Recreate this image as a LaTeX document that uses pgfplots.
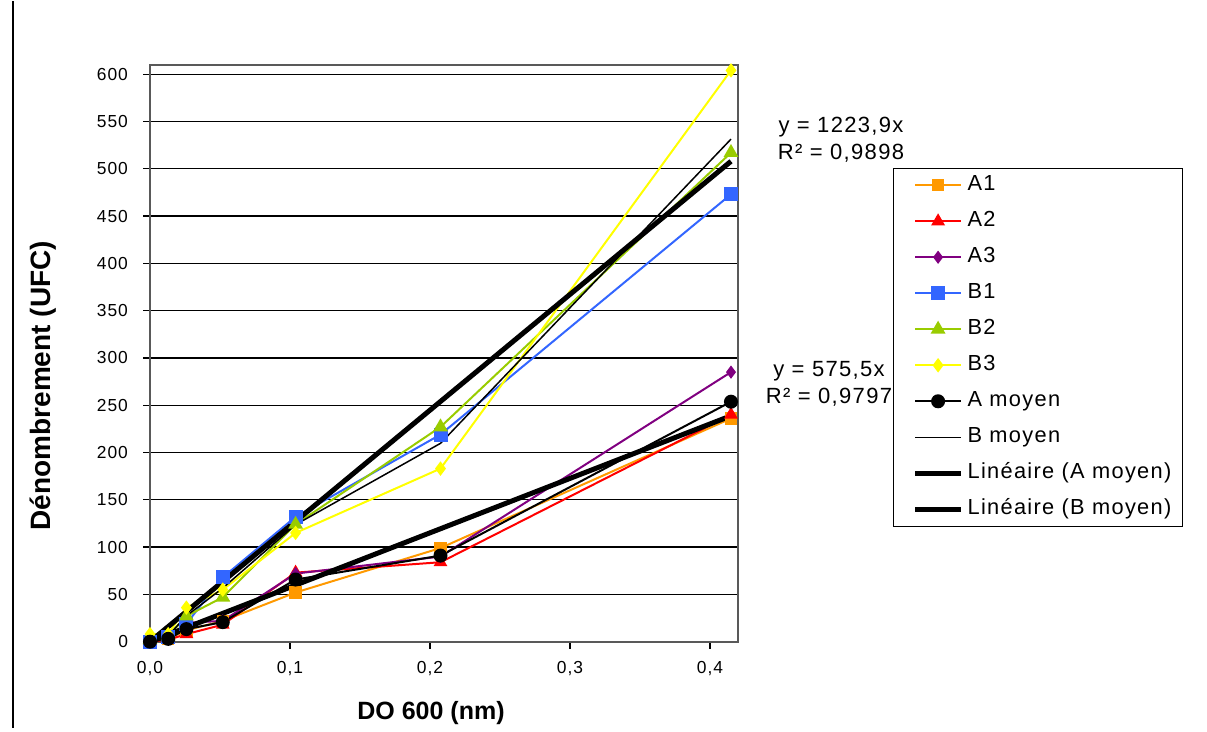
\documentclass[border=0pt]{standalone}
\usepackage{pgfplots}
\pgfplotsset{compat=1.18}
\usepackage{fontspec}
\setmainfont{Liberation Sans}[LetterSpace=6]
\definecolor{cA1}{HTML}{FF9900}
\definecolor{cA2}{HTML}{FF0000}
\definecolor{cA3}{HTML}{800080}
\definecolor{cB1}{HTML}{3366FF}
\definecolor{cB2}{HTML}{99CC00}
\definecolor{cB3}{HTML}{FFFF00}
\begin{document}
\begin{tikzpicture}[x=1pt,y=1pt]
\path (0,0) rectangle (603.5,363.5);
\draw[line width=0.7pt] (6.5,0) -- (6.5,363.5);
\begin{axis}[
  at={(75pt,43pt)}, anchor=south west,
  scale only axis, width=294pt, height=288.5pt,
  xmin=0, xmax=0.42, ymin=0, ymax=610,
  xtick={0,0.1,0.2,0.3,0.4},
  ytick={0,50,...,600},
  ymajorgrids, grid style={black, line width=0.6pt},
  axis line style={draw=gray!70!black, line width=0.9pt},
  tick style={black, line width=0.6pt},
  tick align=outside, major tick length=3.5pt,
  xtick pos=bottom, ytick pos=left,
  x tick label style={/pgf/number format/fixed, /pgf/number format/fixed zerofill, /pgf/number format/precision=1, /pgf/number format/use comma, yshift=-3pt},
  y tick label style={/pgf/number format/fixed, /pgf/number format/use comma, xshift=-4pt},
  /pgf/number format/assume math mode=true,
  tick label style={font=\fontsize{8.7}{10}\selectfont},
  legend cell align=left,
  legend style={at={(axis description cs:1.2636,0.8215)}, anchor=north west, draw=black, line width=0.6pt,
    font=\fontsize{10.9}{12}\selectfont, inner xsep=3.5pt, inner ysep=3.5pt, row sep=8pt,
    nodes={text height=7.5pt, text depth=2.5pt, inner ysep=0pt, inner xsep=2pt}},
  legend image code/.code={\path (0pt,0pt); \draw[mark repeat=2,mark phase=2,#1] plot coordinates {(6pt,0pt) (17.5pt,0pt) (29pt,0pt)};},
]
\addplot[cA1, line width=1pt, mark=square*, mark size=2.6pt, mark options={solid}] coordinates {
(0,0) (0.013,3) (0.026,12) (0.052,22) (0.104,52) (0.2075,99) (0.415,236)};
\addlegendentry{A1}
\addplot[cA2, line width=1pt, mark=triangle*, mark size=3pt] coordinates {
(0,0) (0.013,2) (0.026,8) (0.052,18) (0.104,73) (0.2075,84) (0.415,240)};
\addlegendentry{A2}
\addplot[cA3, line width=1pt, mark=diamond*, mark size=2.5pt] coordinates {
(0,0) (0.013,4) (0.026,20) (0.052,22) (0.104,72) (0.2075,90) (0.415,285)};
\addlegendentry{A3}
\addplot[cB1, line width=1pt, mark=square*, mark size=3pt] coordinates {
(0,0) (0.013,5) (0.026,19) (0.052,68) (0.104,132) (0.2075,219) (0.415,473)};
\addlegendentry{B1}
\addplot[cB2, line width=1pt, mark=triangle*, mark size=3.3pt] coordinates {
(0,2) (0.013,6) (0.026,27) (0.052,47) (0.104,124) (0.2075,227) (0.415,517)};
\addlegendentry{B2}
\addplot[cB3, line width=1pt, mark=diamond*, mark size=2.8pt] coordinates {
(0,8) (0.013,8) (0.026,36) (0.052,55) (0.104,115) (0.2075,183) (0.415,604)};
\addlegendentry{B3}
\addplot[black, line width=1pt, mark=*, mark size=3pt] coordinates {
(0,0) (0.013,3) (0.026,13.3) (0.052,20.7) (0.104,65.7) (0.2075,91) (0.415,253.7)};
\addlegendentry{A moyen}
\addplot[black, line width=0.75pt] coordinates {
(0,3.3) (0.013,6.3) (0.026,27.3) (0.052,56.7) (0.104,123.7) (0.2075,209.7) (0.415,531.3)};
\addlegendentry{B moyen}
\addplot[black, line width=2.5pt] coordinates {(0,0) (0.415,238.8)};
\addlegendentry{Linéaire (A moyen)}
\addplot[black, line width=2.5pt] coordinates {(0,0) (0.415,507.9)};
\addlegendentry{Linéaire (B moyen)}
\end{axis}
\node[font=\fontsize{12.5}{14}\bfseries\addfontfeatures{LetterSpace=0}] at (215.5,7.5) {DO 600 (nm)};
\node[rotate=90, font=\fontsize{14}{15}\bfseries\addfontfeatures{LetterSpace=0}] at (21.5,171) {Dénombrement (UFC)};
\node[align=center, font=\fontsize{11}{13.5}\selectfont] at (420.5,294) {y = 1223,9x\\R² = 0,9898};
\node[align=center, font=\fontsize{11}{13.5}\selectfont] at (414.5,172) {y = 575,5x\\R² = 0,9797};
\end{tikzpicture}
\end{document}
